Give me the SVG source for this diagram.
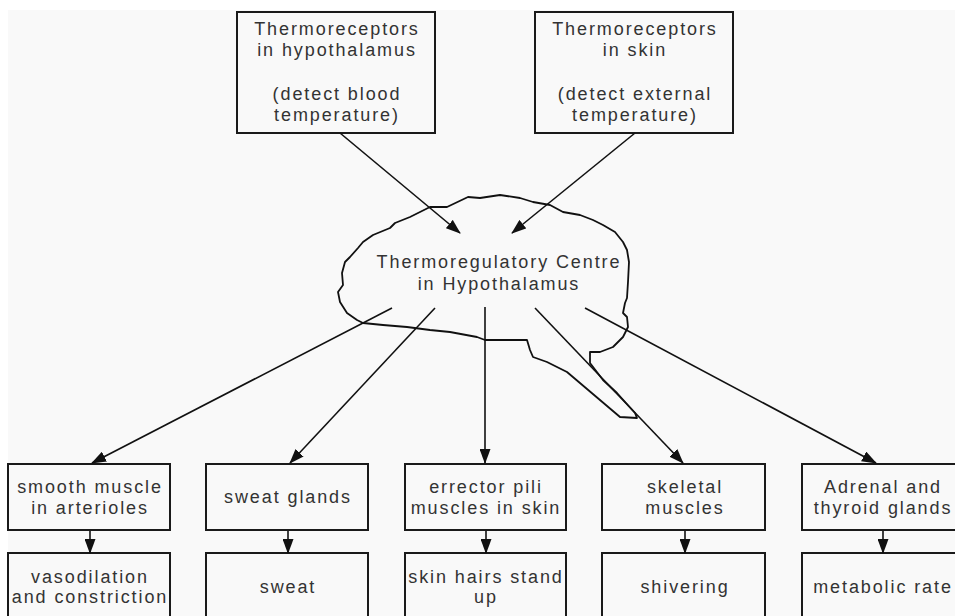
<svg xmlns="http://www.w3.org/2000/svg" width="955" height="616" viewBox="0 0 955 616">
<defs>
<style>
.box{fill:none;stroke:#1a1a1a;stroke-width:2}
.t{font-family:"Liberation Sans",Arial,sans-serif;font-size:18px;letter-spacing:1.9px;fill:#333;text-anchor:middle}
.c{fill:none;stroke:#111;stroke-width:1.6}
.cloud{fill:none;stroke:#111;stroke-width:1.8;stroke-linejoin:round}
</style>
<marker id="ah" markerWidth="15" markerHeight="11" refX="14" refY="5.5" orient="auto" markerUnits="userSpaceOnUse">
<path d="M0,0 L15,5.5 L0,11 z" fill="#111"/>
</marker>
</defs>
<rect x="0" y="0" width="955" height="616" fill="#ffffff"/>
<rect x="8" y="10" width="947" height="606" fill="#f9f9f9"/>

<g id="tr-hypo">
<rect class="box" x="237" y="12" width="198" height="121"/>
<text class="t" x="337" y="35">Thermoreceptors</text>
<text class="t" x="337" y="56">in hypothalamus</text>
<text class="t" x="337" y="100">(detect blood</text>
<text class="t" x="337" y="121">temperature)</text>
</g>
<g id="tr-skin">
<rect class="box" x="535" y="12" width="198" height="121"/>
<text class="t" x="635" y="35">Thermoreceptors</text>
<text class="t" x="635" y="56">in skin</text>
<text class="t" x="635" y="100">(detect external</text>
<text class="t" x="635" y="121">temperature)</text>
</g>

<g id="centre">
<polyline class="cloud" points="480,198 500,195 520,198 533,202 550,205 563,212 580,215 593,220 603,225 615,232 623,242 627,250 629,262 628,282 627,298 625,303 623,313 627,317 628,327 623,337 613,347 600,352 590,352 590,363 603,380 617,393 635,413 637,418 620,417 567,372 563,370 547,362 533,357 530,350 527,340 485,340 477,337 450,332 430,330 407,327 383,325 363,323 357,320 347,313 340,302 338,292 343,285 342,273 345,262 350,257 358,248 363,242 373,235 390,228 395,223 410,217 420,212 430,207 447,207 468,197 480,198"/>
<text class="t" x="499" y="268">Thermoregulatory Centre</text>
<text class="t" x="499" y="290">in Hypothalamus</text>
</g>

<g id="smooth">
<rect class="box" x="8" y="464" width="162" height="66"/>
<text class="t" x="90" y="493">smooth muscle</text>
<text class="t" x="90" y="514">in arterioles</text>
</g>
<g id="sweatglands">
<rect class="box" x="206" y="464" width="162" height="66"/>
<text class="t" x="288" y="503">sweat glands</text>
</g>
<g id="errector">
<rect class="box" x="405" y="464" width="161" height="66"/>
<text class="t" x="486" y="493">errector pili</text>
<text class="t" x="486" y="514">muscles in skin</text>
</g>
<g id="skeletal">
<rect class="box" x="602" y="464" width="163" height="66"/>
<text class="t" x="685" y="493">skeletal</text>
<text class="t" x="685" y="514">muscles</text>
</g>
<g id="adrenal">
<rect class="box" x="802" y="464" width="162" height="66"/>
<text class="t" x="883" y="493">Adrenal and</text>
<text class="t" x="883" y="514">thyroid glands</text>
</g>

<g id="vaso">
<rect class="box" x="8" y="553" width="162" height="70"/>
<text class="t" x="90" y="583">vasodilation</text>
<text class="t" x="90" y="603">and constriction</text>
</g>
<g id="sweat">
<rect class="box" x="206" y="553" width="162" height="70"/>
<text class="t" x="288" y="593">sweat</text>
</g>
<g id="hairs">
<rect class="box" x="405" y="553" width="161" height="70"/>
<text class="t" x="486" y="583">skin hairs stand</text>
<text class="t" x="486" y="603">up</text>
</g>
<g id="shiver">
<rect class="box" x="602" y="553" width="163" height="70"/>
<text class="t" x="685" y="593">shivering</text>
</g>
<g id="metab">
<rect class="box" x="802" y="553" width="162" height="70"/>
<text class="t" x="883" y="593">metabolic rate</text>
</g>

<g id="connectors">
<line class="c" x1="340" y1="133" x2="460" y2="233" marker-end="url(#ah)"/>
<line class="c" x1="635" y1="133" x2="512" y2="233" marker-end="url(#ah)"/>
<line class="c" x1="392" y1="308" x2="92" y2="463" marker-end="url(#ah)"/>
<line class="c" x1="435" y1="308" x2="290" y2="463" marker-end="url(#ah)"/>
<line class="c" x1="485" y1="307" x2="485" y2="463" stroke-width="2.4" marker-end="url(#ah)"/>
<line class="c" x1="535" y1="308" x2="683" y2="463" marker-end="url(#ah)"/>
<line class="c" x1="585" y1="308" x2="876" y2="463" marker-end="url(#ah)"/>
<line class="c" x1="90" y1="531" x2="90" y2="553" marker-end="url(#ah)"/>
<line class="c" x1="288" y1="531" x2="288" y2="553" marker-end="url(#ah)"/>
<line class="c" x1="486" y1="531" x2="486" y2="553" marker-end="url(#ah)"/>
<line class="c" x1="685" y1="531" x2="685" y2="553" marker-end="url(#ah)"/>
<line class="c" x1="883" y1="531" x2="883" y2="553" marker-end="url(#ah)"/>
</g>
</svg>
